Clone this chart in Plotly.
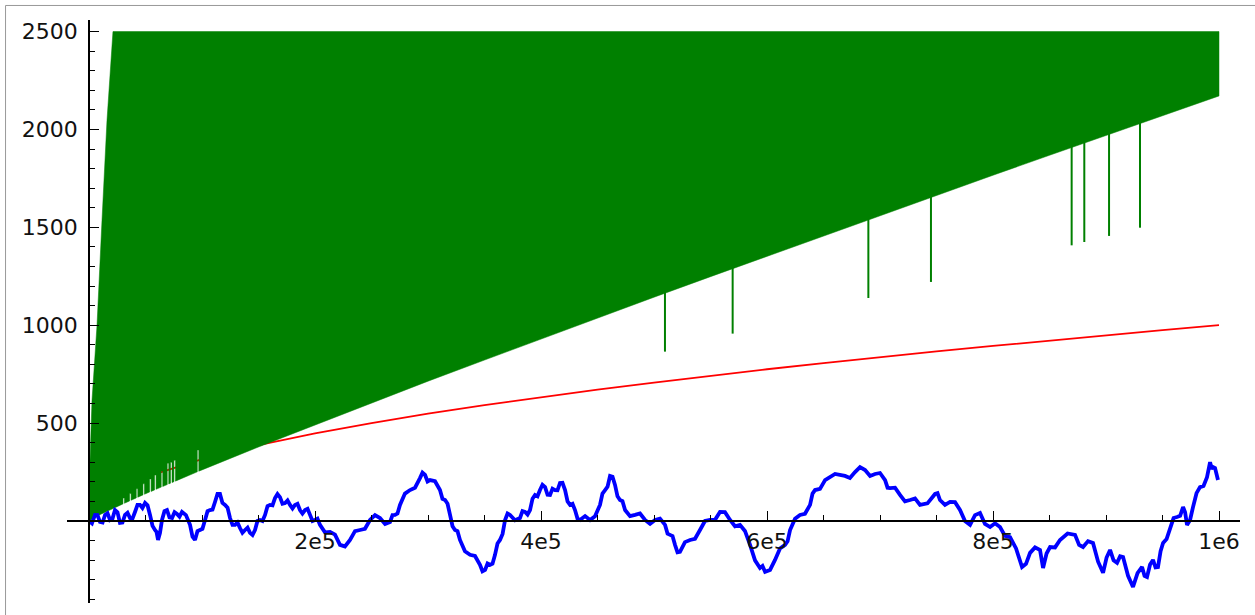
import plotly.graph_objects as go

# ---- data -------------------------------------------------------------
# lower envelope of the green band (upper part is clipped at 2500)
env_x = [0, 10000, 25000, 50000, 75000, 100000, 150000, 200000, 250000, 300000,
         350000, 400000, 450000, 500000, 550000, 600000, 650000, 700000, 750000,
         800000, 850000, 900000, 950000, 1000000]
env_y = [0, 33, 74, 139, 200, 261, 378, 492, 603, 714, 822, 930, 1037, 1143,
         1248, 1353, 1457, 1560, 1663, 1766, 1868, 1969, 2071, 2171]

# steep left edge of the green band
left_x = [0, 0, 2650, 7100, 11500, 15900, 21200]
left_y = [0, 150, 615, 1000, 1535, 2045, 2500]

band_top = 2500

# gaps in the band near the origin
gap_x = [30700, 36600, 42500, 48400, 54300, 58700, 64600, 69900, 72800, 75800, 96500]
gap_top = [117, 140, 165, 190, 215, 235, 255, 295, 300, 310, 362]

# isolated strokes reaching below the band
spike_x = [509700, 569600, 689700, 745100, 869600, 880800, 902700, 930100]
spike_low = [865, 957, 1139, 1221, 1408, 1425, 1456, 1498]

# red curve
red_x = [0, 1000, 2500, 5000, 10000, 25000, 50000, 100000, 150000, 200000, 250000,
         300000, 350000, 400000, 450000, 500000, 550000, 600000, 650000, 700000,
         750000, 800000, 850000, 900000, 950000, 1000000]
red_y = [0, 32, 50, 71, 100, 158, 224, 316, 387, 447, 500, 548, 592, 632, 671,
         707, 742, 775, 806, 837, 866, 894, 922, 949, 975, 1000]

# blue walk (x in units, y values)
blue_x = [
    0, 2600, 5300, 7500, 9700, 12000, 14200, 16400, 18600, 20800, 23000, 25200,
    27400, 29600, 31900, 34100, 36300, 38500, 40700, 42900, 45100, 47300, 49600,
    51800, 54000, 56200, 58400, 59700, 61100, 62800, 64600, 66800, 69000, 71200,
    73500, 75700, 77900, 80100, 82300, 85800, 89400, 91600, 93800, 96000, 98200,
    100400, 102700, 104900, 107100, 109300, 111500, 113700, 115900, 118100,
    120400, 122600, 124800, 127000, 129200, 131400, 133600, 135800, 138100,
    140300, 142500, 144700, 146900, 149100, 151300, 153500, 155800, 158000,
    160200, 162400, 164600, 166800, 169000, 171200, 173500, 175700, 177900,
    180100, 182300, 184500, 186700, 188900, 191200, 193400, 195600, 197800,
    200000, 202200, 204400, 208800, 213300, 217700, 222100, 226500, 231000,
    235400, 239800, 244200, 248700, 253100, 257500, 262000, 266400, 268600,
    270800, 273000, 275200, 279600, 284100, 288500, 292900, 295100, 297400,
    299600, 301800, 306200, 310600, 312800, 315100, 317300, 319500, 321700,
    323900, 326100, 328300, 332700, 337200, 341600, 346000, 348200, 350500,
    352700, 354900, 357100, 359300, 361500, 363700, 366000, 368200, 370400,
    372600, 377000, 381400, 383600, 385900, 388100, 390300, 392500, 394700,
    396900, 399100, 401300, 403600, 405800, 408000, 410200, 412400, 414600,
    416800, 419000, 421300, 423500, 425700, 427900, 430100, 432300, 434500,
    439000, 443400, 447800, 452200, 454400, 456700, 458900, 461100, 463300,
    465500, 467700, 469900, 472100, 474400, 478800, 483200, 487600, 492100,
    496500, 500900, 505300, 509800, 512000, 514200, 516400, 518600, 520800,
    523000, 527400, 531900, 536300, 540700, 545100, 549600, 554000, 558400,
    562800, 567300, 571700, 576100, 580500, 585000, 589400, 593800, 596000,
    598300, 602700, 607100, 611500, 616000, 618200, 620400, 624800, 629200,
    633600, 638100, 640300, 642500, 646900, 651400, 660200, 669000, 673400,
    677900, 682300, 686800, 691200, 695600, 700000, 704500, 706700, 708900,
    713300, 717700, 722100, 726600, 731000, 735400, 742000, 748700, 750900,
    753100, 757500, 762000, 766400, 770800, 775200, 779700, 784100, 788500,
    792900, 797400, 801800, 806200, 810600, 815100, 820400, 825700, 829200,
    832800, 837200, 841600, 843000, 844300, 847400, 850500, 854900, 859300,
    866000, 872600, 876200, 879700, 884100, 888500, 893000, 897400, 900500,
    903600, 906700, 909800, 912500, 915100, 919500, 923900, 927900, 931900,
    934100, 936300, 939000, 941600, 943800, 946000, 948300, 950500, 953600,
    956700, 959800, 962900, 965600, 968200, 970000, 971700, 974400, 977000,
    980100, 983200, 986300, 989400, 990800, 992100, 993400, 994700, 996500,
    998300, 999100]
blue_y = [
    0, -12, 31, 30, -5, -8, 31, 40, 5, 12, 56, 45,
    -10, -8, 31, 42, 15, 12, 46, 82, 82, 66, 92,
    80, 31, -25, -46, -55, -97, -62, 5, 50, 56, 18,
    15, 45, 36, 22, 46, 30, -20, -80, -97, -52, -46,
    -40, 5, 50, 56, 58, 97, 138, 138, 92,
    82, 68, 15, -20, -20, -8, -36, -60, -46,
    -34, -61, -72, -46, 0, 5, 0, 31, 76,
    82, 80, 117, 138, 122, 88, 92, 105, 82,
    64, 82, 88, 56, 38, 56, 62, 31, 0,
    5, 12, -20, -58, -56, -70, -122, -130, -97,
    -52, -46, -40, 5, 30, 15, -15, -5, 30,
    31, 38, 82, 140, 158, 170, 219, 247, 235,
    202, 209, 203, 158, 113, 107, 88, 31, -27,
    -46, -52, -97, -155, -173, -179, -224, -257, -250,
    -217, -224, -218, -173, -115, -97, -66, 5, 38,
    31, 4, 15, 50, 46, 33, 56, 114, 133,
    126, 158, 185, 173, 134, 133, 165, 158, 157,
    194, 195, 158, 100, 82, 88, 56, 12, 5,
    25, 5, 24, 82, 140, 158, 175, 230, 226,
    184, 126, 107, 101, 56, 25, 31, 38, 5,
    -15, 5, 12, -20, -65, -71, -77, -122, -160,
    -158, -108, -97, -91, -46, 0, 5, 6, 46,
    45, 5, -27, -20, -51, -122, -201, -240, -230,
    -260, -250, -199, -140, -122, -104, -46, 12, 31,
    37, 82, 140, 158, 164, 209, 240, 230, 220,
    250, 275, 260, 230, 240, 245, 209, 170, 168,
    170, 133, 100, 107, 115, 82, 90, 138, 142,
    107, 82, 97, 96, 56, 0, -20, 30, 41,
    -15, -31, -12, -31, -76, -82, -140, -235, -219,
    -163, -135, -148, -214, -240, -166, -133, -135, -97,
    -64, -71, -122, -133, -103, -112, -208, -265, -187,
    -148, -201, -214, -180, -184, -280, -337, -266, -235,
    -280, -286, -222, -199, -237, -235, -154, -112, -92,
    -31, 15, 20, 26, 71, 45, -20, 5, 71,
    142, 173, 179, 224, 282, 301, 268, 275, 270,
    224, 209]

x_ticks = [200000, 400000, 600000, 800000, 1000000]
x_labels = ["2e5", "4e5", "6e5", "8e5", "1e6"]
y_ticks = [500, 1000, 1500, 2000, 2500]
y_labels = ["500", "1000", "1500", "2000", "2500"]

# ---- build the band outline -------------------------------------------
def env_at(x):
    for i in range(len(env_x) - 1):
        if env_x[i] <= x <= env_x[i + 1]:
            t = (x - env_x[i]) / (env_x[i + 1] - env_x[i])
            return env_y[i] + t * (env_y[i + 1] - env_y[i])
    return env_y[-1]

half_gap = 650
lower = [(x, y) for x, y in zip(env_x, env_y)]
for gx, gt in zip(gap_x, gap_top):
    lower += [(gx - half_gap, env_at(gx - half_gap)), (gx - half_gap, gt),
              (gx + half_gap, gt), (gx + half_gap, env_at(gx + half_gap))]
lower.sort(key=lambda p: p[0])

poly_x = list(left_x) + [env_x[-1], env_x[-1]] + [p[0] for p in reversed(lower)]
poly_y = list(left_y) + [band_top, env_y[-1]] + [p[1] for p in reversed(lower)]

sx, sy = [], []
for x, lo in zip(spike_x, spike_low):
    sx += [x, x, None]
    sy += [lo, env_at(x) + 40, None]

GREEN = "#008000"

fig = go.Figure()
fig.add_trace(go.Scatter(x=red_x, y=red_y, mode="lines",
                         line=dict(color="#ff0000", width=1.8), hoverinfo="skip"))
fig.add_trace(go.Scatter(x=poly_x, y=poly_y, mode="lines", fill="toself",
                         fillcolor=GREEN, line=dict(color=GREEN, width=0.5),
                         hoverinfo="skip"))
fig.add_trace(go.Scatter(x=sx, y=sy, mode="lines",
                         line=dict(color=GREEN, width=2), hoverinfo="skip"))
fig.add_trace(go.Scatter(x=blue_x, y=blue_y, mode="lines",
                         line=dict(color="#0000ff", width=3.8), hoverinfo="skip"))

x_range = [-19469, 1018584]
y_range = [-419, 2559]
x_pos = (0 - y_range[0]) / (y_range[1] - y_range[0])
y_pos = (0 - x_range[0]) / (x_range[1] - x_range[0])

tick_font = dict(family="DejaVu Sans", size=22, color="#111111")

fig.update_layout(
    width=1255, height=615,
    margin=dict(l=67, r=15, t=20, b=12),
    paper_bgcolor="white", plot_bgcolor="white",
    showlegend=False, hovermode=False,
    xaxis=dict(range=x_range, anchor="free", position=x_pos,
               showline=True, linecolor="black", linewidth=1.6,
               showgrid=False, zeroline=False,
               ticks="inside", ticklen=9, tickwidth=1.2, tickcolor="black",
               tickmode="array", tickvals=x_ticks, ticktext=x_labels,
               tickfont=tick_font, ticklabelstandoff=1,
               minor=dict(ticks="inside", ticklen=5, tickwidth=1, tickcolor="black",
                          tickmode="linear", tick0=0, dtick=50000, showgrid=False)),
    yaxis=dict(range=y_range, anchor="free", position=y_pos,
               showline=True, linecolor="black", linewidth=1.6,
               showgrid=False, zeroline=False,
               ticks="inside", ticklen=9, tickwidth=1.2, tickcolor="black",
               tickmode="array", tickvals=y_ticks, ticktext=y_labels,
               tickfont=tick_font, ticklabelstandoff=6,
               minor=dict(ticks="inside", ticklen=5, tickwidth=1, tickcolor="black",
                          tickmode="linear", tick0=0, dtick=100, showgrid=False)),
    shapes=[
        dict(type="line", xref="paper", yref="paper",
             x0=-0.0524, x1=1.02, y0=1.0249, y1=1.0249,
             line=dict(color="#999999", width=1)),
        dict(type="line", xref="paper", yref="paper",
             x0=-0.0524, x1=-0.0524, y0=-0.03, y1=1.0249,
             line=dict(color="#999999", width=1)),
    ],
)

fig.write_html("out.html")
